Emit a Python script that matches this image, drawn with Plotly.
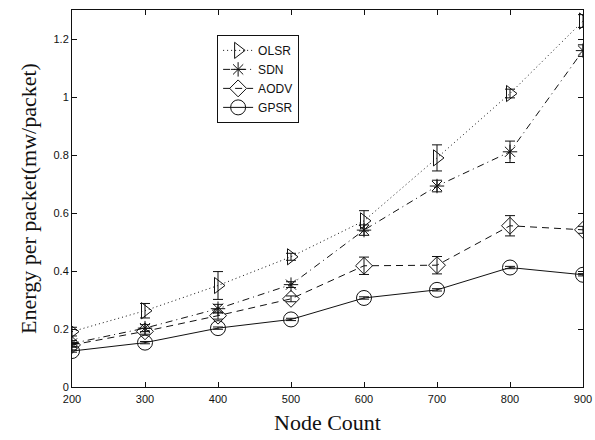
import plotly.graph_objects as go

node_count = [200, 300, 400, 500, 600, 700, 800, 900]

olsr = [0.191, 0.263, 0.350, 0.449, 0.573, 0.790, 1.012, 1.262]
olsr_err = [0.015, 0.025, 0.048, 0.012, 0.035, 0.045, 0.015, 0.022]

sdn = [0.150, 0.203, 0.270, 0.353, 0.541, 0.693, 0.811, 1.160]
sdn_err = [0.010, 0.012, 0.015, 0.010, 0.018, 0.020, 0.037, 0.020]

aodv = [0.145, 0.192, 0.246, 0.304, 0.418, 0.420, 0.556, 0.542]
aodv_err = [0.008, 0.010, 0.012, 0.010, 0.030, 0.030, 0.035, 0.012]

gpsr = [0.124, 0.153, 0.203, 0.233, 0.307, 0.335, 0.412, 0.387]
gpsr_err = [0.004, 0.004, 0.004, 0.004, 0.004, 0.004, 0.004, 0.004]

series = [
    ("OLSR", olsr, olsr_err, "triangle-right-open", "1px,3px", 14),
    ("SDN", sdn, sdn_err, "asterisk-open", "7px,4px,1px,4px", 12),
    ("AODV", aodv, aodv_err, "diamond-open", "7px,5px", 13),
    ("GPSR", gpsr, gpsr_err, "circle-open", "solid", 15),
]

ink = "#111111"
fig = go.Figure()
for name, vals, err, sym, dash, msize in series:
    fig.add_trace(go.Scatter(
        x=node_count, y=vals, name=name, mode="lines+markers",
        line=dict(color=ink, width=1, dash=dash),
        marker=dict(symbol=sym, size=msize, color=ink, line=dict(width=1, color=ink)),
        error_y=dict(type="data", array=err, visible=True, color=ink, thickness=1, width=5),
    ))

axis_common = dict(
    showline=True, linecolor=ink, linewidth=1, mirror="allticks",
    ticks="inside", ticklen=5, tickcolor=ink, showgrid=False, zeroline=False,
    automargin=False,
    tickfont=dict(family="Liberation Sans, Arial", size=11, color=ink),
)

fig.update_layout(
    width=595, height=440, autosize=False,
    margin=dict(l=72, r=12, t=10, b=53),
    paper_bgcolor="white", plot_bgcolor="white",
    showlegend=True,
    legend=dict(
        x=0.284, y=0.934, xanchor="left", yanchor="top",
        bordercolor=ink, borderwidth=1, bgcolor="white",
        font=dict(family="Liberation Sans, Arial", size=12, color=ink),
        tracegroupgap=0, itemwidth=30,
    ),
    xaxis=dict(
        range=[200, 900], tickvals=node_count, ticklabelstandoff=2,
        title=dict(text="Node Count", font=dict(family="Liberation Serif, Times New Roman", size=22, color=ink), standoff=10),
        **axis_common,
    ),
    yaxis=dict(
        range=[0, 1.3], tickvals=[0, 0.2, 0.4, 0.6, 0.8, 1.0, 1.2],
        ticktext=["0", "0.2", "0.4", "0.6", "0.8", "1", "1.2"],
        title=dict(text="Energy per packet(mw/packet)", font=dict(family="Liberation Serif, Times New Roman", size=22, color=ink), standoff=10),
        **axis_common,
    ),
)

fig.write_html(
    "out.html",
    config={"displayModeBar": False, "responsive": False},
    post_script=(
        "document.documentElement.style.overflow='hidden';"
        "document.body.style.overflow='hidden';"
        "document.body.style.margin='0px';"
    ),
)
